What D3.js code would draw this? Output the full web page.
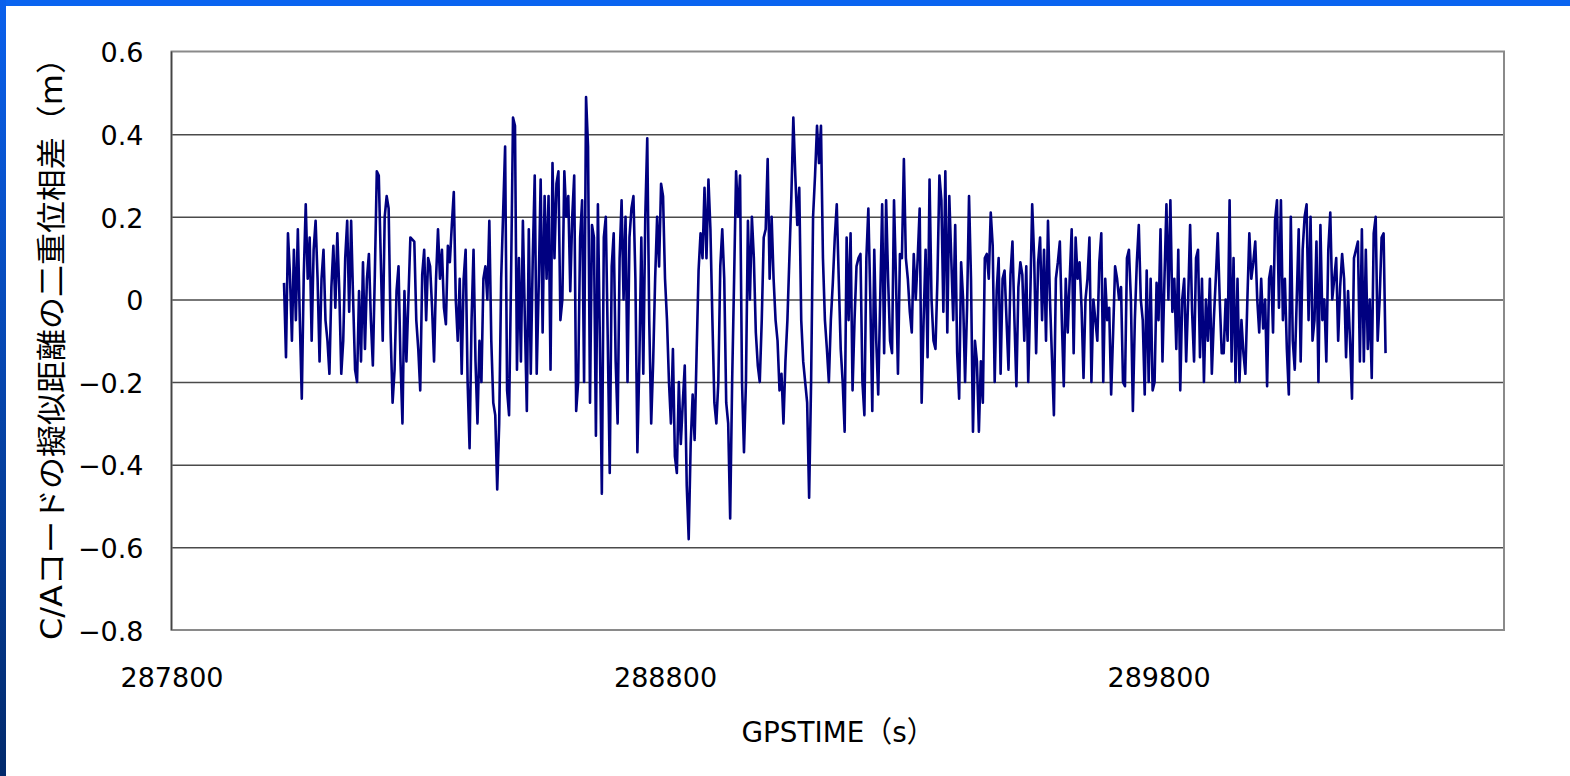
<!DOCTYPE html>
<html>
<head>
<meta charset="utf-8">
<script src="https://cdn.jsdelivr.net/npm/d3@7"></script>
<style>
body { margin: 0; background: #fff; overflow: hidden; }
svg { display: block; }
</style>
</head>
<body>
<div id="chart-area"></div>
<script>
// GPS time where each block of readings starts, readings every 4 s
var blockStart = [288028, 288292, 288564, 288840, 289112, 289384, 289660, 289932];
var tStep = 4;

// double difference of C/A pseudorange (m)
var dd1 = [0.04,-0.14,0.16,0.06,-0.1,0.12,-0.05,0.17,-0.05,-0.24,
  0.06,0.23,0.05,0.15,-0.1,0.12,0.19,0.05,-0.15,0.05,
  0.12,-0.05,-0.1,-0.18,0.03,0.13,-0.02,0.16,0.02,-0.18,
  -0.1,0.1,0.19,-0.03,0.19,0,-0.17,-0.2,0.02,-0.15,
  0.09,-0.12,0.05,0.11,-0.05,-0.16,0.06,0.31,0.3,0.1,
  -0.1,0.2,0.25,0.22,-0.08,-0.25,-0.17,0.02,0.08,-0.15,
  -0.3,0.02,-0.15,0,0.15];
var dd2 = [0.14,-0.05,-0.12,-0.22,0.06,0.12,-0.05,0.1,0.08,-0.02,
  -0.15,0.05,0.17,0.05,0.12,-0.02,-0.06,0.13,0.09,0.18,
  0.26,0,-0.1,0.05,-0.18,0.05,0.12,-0.2,-0.36,-0.05,
  0.12,-0.15,-0.3,-0.1,-0.2,0.05,0.08,0,0.19,-0.1,
  -0.25,-0.28,-0.46,-0.3,0.05,0.21,0.37,-0.22,-0.28,0.05,
  0.44,0.42,-0.17,0.1,-0.15,0.19,-0.05,-0.27,0.17,-0.18,
  0.1,0.3,-0.18,0.03,0.29,-0.08,0.25,0.05];
var dd3 = [0.25,-0.17,0.33,0.1,0.28,0.31,-0.05,0,0.31,0.2,
  0.25,0.02,0.2,0.3,-0.27,-0.2,0.15,0.24,-0.2,0.49,
  0.37,-0.25,0.18,0.15,-0.33,0.23,-0.1,-0.47,0.15,0.2,
  -0.1,-0.42,0.08,0.16,-0.15,-0.3,0.1,0.24,0,0.2,
  -0.2,0.15,0.22,0.25,0.05,-0.37,-0.15,0.15,-0.18,0.2,
  0.39,-0.05,-0.3,-0.15,0.05,0.2,0.08,0.28,0.25,0.05,
  -0.05,-0.2,-0.3,-0.12,-0.38,-0.42,-0.2,-0.35,-0.25];
var dd4 = [-0.16,-0.45,-0.58,-0.35,-0.23,-0.34,-0.13,0.07,0.16,0.1,
  0.27,0.1,0.29,0.17,-0.05,-0.25,-0.3,-0.2,0.08,0.17,
  0.05,-0.25,-0.3,-0.53,-0.2,0.05,0.31,0.2,0.3,-0.2,
  -0.37,-0.2,0.19,0,0.2,0.1,-0.08,-0.16,-0.2,-0.05,
  0.15,0.17,0.34,0.05,0.2,0.05,-0.05,-0.1,-0.22,-0.18,
  -0.3,-0.15,-0.05,0.1,0.25,0.44,0.3,0.18,0.27,-0.05,
  -0.15,-0.2,-0.25,-0.48,-0.2,0.2,0.3,0.42];
var dd5 = [0.33,0.42,0.1,-0.05,-0.12,-0.2,-0.05,0.04,0.15,0.23,
  0.05,-0.12,-0.2,-0.32,0.15,-0.05,0.16,-0.22,-0.05,0.08,
  0.1,0.11,-0.2,-0.28,0.1,0.22,0,-0.27,0.12,-0.1,
  -0.23,0,0.23,-0.13,0.24,0.05,-0.1,-0.13,0.24,0.05,
  -0.18,0.11,0.1,0.34,0.1,0.05,-0.03,-0.08,0.11,0,
  0.1,0.22,-0.25,-0.05,0.12,-0.14,0.29,0,-0.1,-0.12,
  0.05,0.3,0.24,-0.03,0.31,-0.08,0.25,0.1];
var dd6 = [-0.05,0.18,-0.13,-0.24,0.09,0,-0.2,-0.02,0.25,0.05,
  -0.32,-0.1,-0.15,-0.32,-0.15,-0.25,0.1,0.11,0.05,0.21,
  0.13,-0.2,0.02,0.1,-0.18,0.05,0.07,-0.05,-0.17,0.06,
  0.14,-0.05,-0.21,0.03,0.09,0.06,-0.1,0.08,-0.2,0,
  0.23,0.1,-0.13,0.09,0.15,-0.05,0.12,-0.1,0.19,0,
  -0.14,-0.28,0.05,0.09,0.14,-0.05,-0.21,0.05,-0.08,0.05,
  0.17,-0.13,0.15,0.05,0.09,-0.02,-0.19,0,0.05];
var dd7 = [0.15,-0.2,0,-0.05,-0.1,0.09,0.16,-0.2,0.05,-0.05,
  -0.02,-0.23,-0.08,0.08,0.05,0,0.03,-0.2,-0.21,0.1,
  0.12,0,-0.27,-0.05,0.09,0.18,0,-0.05,-0.23,0.07,
  -0.2,0.05,-0.22,-0.2,0.04,-0.05,0.17,-0.15,0.05,0.23,
  0,0.24,-0.03,0.05,-0.12,0.12,-0.22,0,0.05,-0.15,
  0,0.18,-0.03,-0.15,0.1,0.12,-0.14,0.05,-0.2,0,
  -0.1,0.05,-0.18,-0.05,0.05,0.16,0,-0.13];
var dd8 = [-0.13,0,-0.1,0.24,-0.15,0.1,-0.2,0.05,-0.2,-0.05,
  -0.13,-0.18,0,0.16,0.05,0.09,0.14,0,-0.08,0.05,
  -0.07,0,-0.21,0.05,0.08,-0.08,0.19,0.24,-0.02,0.24,
  -0.05,0.05,-0.12,-0.23,0.2,-0.1,-0.17,0,0.17,-0.15,
  0.12,0.2,0.23,-0.05,0.2,-0.1,-0.05,0.14,-0.2,0.18,
  -0.05,0,-0.15,0.12,0.21,0,0.05,0.1,-0.1,0.03,
  0.11,0.05,-0.14,0.02,-0.1,-0.24,0.1,0.12,0.14,-0.15,
  0.17,-0.15,0.12,-0.12,0,-0.19,0.16,0.2,-0.1,0,
  0.15,0.16,-0.13];

var yTicks = [-0.8, -0.6, -0.4, -0.2, 0, 0.2, 0.4, 0.6];
var xTicks = [287800, 288800, 289800];

var W = 1570, H = 776;
var plotL = 171.5, plotT = 51.5, plotR = 1504, plotB = 630;

var blocks = [dd1, dd2, dd3, dd4, dd5, dd6, dd7, dd8];
var dat = [];
blocks.forEach(function(b, k) {
    b.forEach(function(v, i) {
        dat.push({ t: blockStart[k] + i * tStep, v: v });
    });
});

var svg = d3.select('#chart-area').append('svg')
    .attr('width', W)
    .attr('height', H);

// blue frame of the slide
var grad = svg.append('defs').append('linearGradient')
    .attr('id', 'sideGrad')
    .attr('x1', 0).attr('y1', 0).attr('x2', 0).attr('y2', 1);
grad.append('stop').attr('offset', '0%').attr('stop-color', '#0a60ec');
grad.append('stop').attr('offset', '100%').attr('stop-color', '#022a6c');

svg.append('rect').attr('x', 0).attr('y', 0).attr('width', W).attr('height', 6).attr('fill', '#0a64f0');
svg.append('rect').attr('x', 0).attr('y', 0).attr('width', 6).attr('height', H).attr('fill', 'url(#sideGrad)');

var theX = d3.scaleLinear()
    .domain([287800, 290500])
    .range([plotL, plotR]);

var theY = d3.scaleLinear()
    .domain([-0.8, 0.6])
    .range([plotB, plotT]);

// gridlines
var grid = svg.append('g')
    .attr('transform', 'translate(' + plotL + ',0)')
    .call(d3.axisLeft(theY)
        .tickValues([-0.6, -0.4, -0.2, 0, 0.2, 0.4])
        .tickSize(-(plotR - plotL))
        .tickFormat(''));
grid.select('.domain').remove();
grid.selectAll('line').attr('stroke', '#4a4a4a').attr('stroke-width', 1.5);

// plot frame
svg.append('rect')
    .attr('x', plotL).attr('y', plotT)
    .attr('width', plotR - plotL).attr('height', plotB - plotT)
    .attr('fill', 'none')
    .attr('stroke', '#8a8a8a')
    .attr('stroke-width', 2);
svg.append('line')
    .attr('x1', plotL).attr('x2', plotL)
    .attr('y1', plotT).attr('y2', plotB)
    .attr('stroke', '#444').attr('stroke-width', 1.5);

// y tick labels
var axisY = svg.append('g')
    .attr('transform', 'translate(' + plotL + ',0)')
    .call(d3.axisLeft(theY)
        .tickValues(yTicks)
        .tickSize(0)
        .tickPadding(28)
        .tickFormat(function(d) { return d === 0 ? '0' : d3.format('.1f')(d); }));
axisY.select('.domain').remove();
axisY.selectAll('text')
    .attr('font-family', 'DejaVu Sans, sans-serif')
    .attr('font-size', 27)
    .attr('fill', '#000')
    .attr('dy', '0.38em');

// x tick labels
var axisX = svg.append('g')
    .attr('transform', 'translate(0,' + plotB + ')')
    .call(d3.axisBottom(theX)
        .tickValues(xTicks)
        .tickSize(0)
        .tickFormat(d3.format('d')));
axisX.select('.domain').remove();
axisX.selectAll('text')
    .attr('font-family', 'DejaVu Sans, sans-serif')
    .attr('font-size', 27)
    .attr('fill', '#000')
    .attr('y', 38)
    .attr('dy', '0.71em');

// the series
var line = d3.line()
    .x(function(d) { return theX(d.t); })
    .y(function(d) { return theY(d.v); });

svg.append('path')
    .datum(dat)
    .attr('d', line)
    .attr('fill', 'none')
    .attr('stroke', '#000080')
    .attr('stroke-width', 2.6)
    .attr('stroke-linejoin', 'round');

// axis titles
svg.append('text')
    .attr('x', 838)
    .attr('y', 742)
    .attr('text-anchor', 'middle')
    .attr('font-family', 'DejaVu Sans, Noto Sans CJK JP, sans-serif')
    .attr('font-size', 29)
    .attr('textLength', 193)
    .attr('lengthAdjust', 'spacingAndGlyphs')
    .text('GPSTIME（s）');

svg.append('text')
    .attr('transform', 'translate(51,341) rotate(-90)')
    .attr('text-anchor', 'middle')
    .attr('dominant-baseline', 'central')
    .attr('font-family', 'DejaVu Sans, Noto Sans CJK JP, sans-serif')
    .attr('font-size', 30)
    .attr('textLength', 598)
    .attr('lengthAdjust', 'spacingAndGlyphs')
    .text('C/Aコードの擬似距離の二重位相差（m）');
</script>
</body>
</html>
